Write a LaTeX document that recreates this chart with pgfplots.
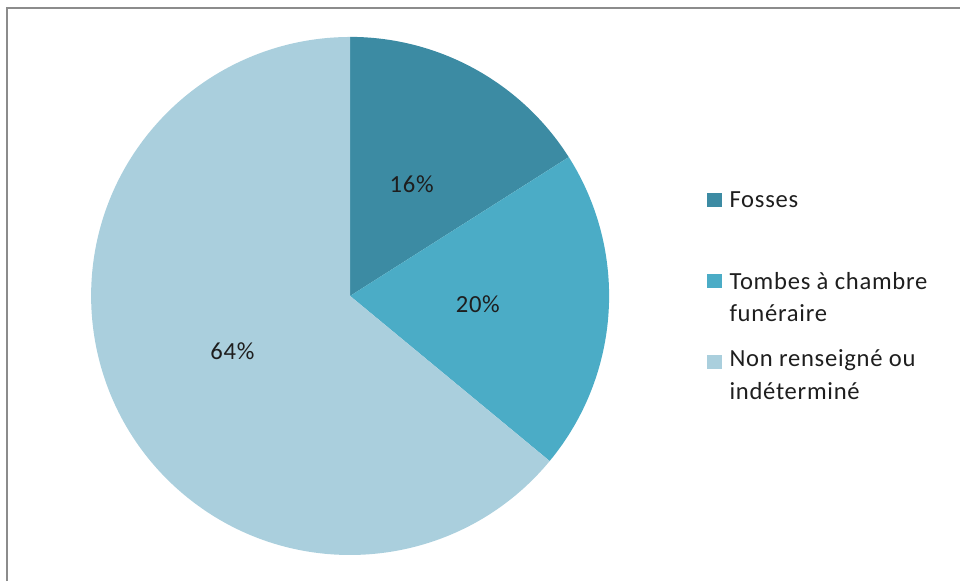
\documentclass[border=0pt]{standalone}
\usepackage{fontspec}
\setmainfont{Carlito}[LetterSpace=3]
\usepackage{pgfplots}
\usepackage{pgfplotstable}
\pgfplotsset{compat=1.18}

\definecolor{fosses}{HTML}{3C8BA3}
\definecolor{tombes}{HTML}{4BACC6}
\definecolor{nonrens}{HTML}{AACFDD}
\definecolor{cadre}{HTML}{8C8C8C}
\definecolor{texte}{HTML}{1E1E1E}

% parts en pourcentage
\pgfplotstableread{
part pct
Fosses 16
Tombes 20
Non 64
}\parts

\begin{document}
\fontsize{14}{17}\selectfont
\begin{tikzpicture}[font=\fontsize{14}{17}\selectfont]
\pgfplotstablegetelem{0}{pct}\of\parts \let\pa\pgfplotsretval
\pgfplotstablegetelem{1}{pct}\of\parts \let\pb\pgfplotsretval
\pgfplotstablegetelem{2}{pct}\of\parts \let\pc\pgfplotsretval
\pgfmathsetmacro\aA{90}
\pgfmathsetmacro\aB{\aA-3.6*\pa}
\pgfmathsetmacro\aC{\aB-3.6*\pb}
\pgfmathsetmacro\aD{\aC-3.6*\pc}
\pgfmathsetmacro\mA{(\aA+\aB)/2}
\pgfmathsetmacro\mB{(\aB+\aC)/2}
\pgfmathsetmacro\mC{(\aC+\aD)/2}
\useasboundingbox (0,0) rectangle (19.2cm,11.62cm);
\begin{axis}[
  at={(0,0)}, anchor=south west,
  x=0.02cm, y=0.02cm,
  xmin=-350, xmax=610, ymin=-285, ymax=296,
  hide axis, clip=false,
]
% cadre
\draw[cadre, line width=0.04cm] (axis cs:-343,-285) -- (axis cs:-343,288) -- (axis cs:610,288);
% secteurs
\fill[fosses] (axis cs:0,0) -- (axis cs:{259*cos(\aA)},{259*sin(\aA)})
  arc[start angle=\aA, end angle=\aB, radius=5.18cm] -- cycle;
\fill[tombes] (axis cs:0,0) -- (axis cs:{259*cos(\aB)},{259*sin(\aB)})
  arc[start angle=\aB, end angle=\aC, radius=5.18cm] -- cycle;
\fill[nonrens] (axis cs:0,0) -- (axis cs:{259*cos(\aC)},{259*sin(\aC)})
  arc[start angle=\aC, end angle=\aD, radius=5.18cm] -- cycle;
% etiquettes
\node[text=texte, font=\fontsize{14}{17}\selectfont] at (axis cs:{128*cos(\mA)},{128*sin(\mA)}) {\pa\%};
\node[text=texte, font=\fontsize{14}{17}\selectfont] at (axis cs:{128*cos(\mB)},{128*sin(\mB)}) {\pb\%};
\node[text=texte, font=\fontsize{14}{17}\selectfont] at (axis cs:{130*cos(\mC)},{130*sin(\mC)}) {\pc\%};
% legende
\fill[fosses] (axis cs:357,89) rectangle (axis cs:372,103);
\fill[tombes] (axis cs:357,8) rectangle (axis cs:372,22);
\fill[nonrens] (axis cs:357,-73) rectangle (axis cs:372,-59);
\begin{scope}[every node/.style={anchor=base west, inner sep=0pt, text=texte, font=\fontsize{14}{17}\selectfont}]
\node at (axis cs:379,88.3) {Fosses};
\node at (axis cs:379,6) {Tombes à chambre};
\node at (axis cs:379,-25.7) {funéraire};
\node at (axis cs:379,-70.7) {Non renseigné ou};
\node at (axis cs:379,-104) {indéterminé};
\end{scope}
\end{axis}
\end{tikzpicture}
\end{document}
